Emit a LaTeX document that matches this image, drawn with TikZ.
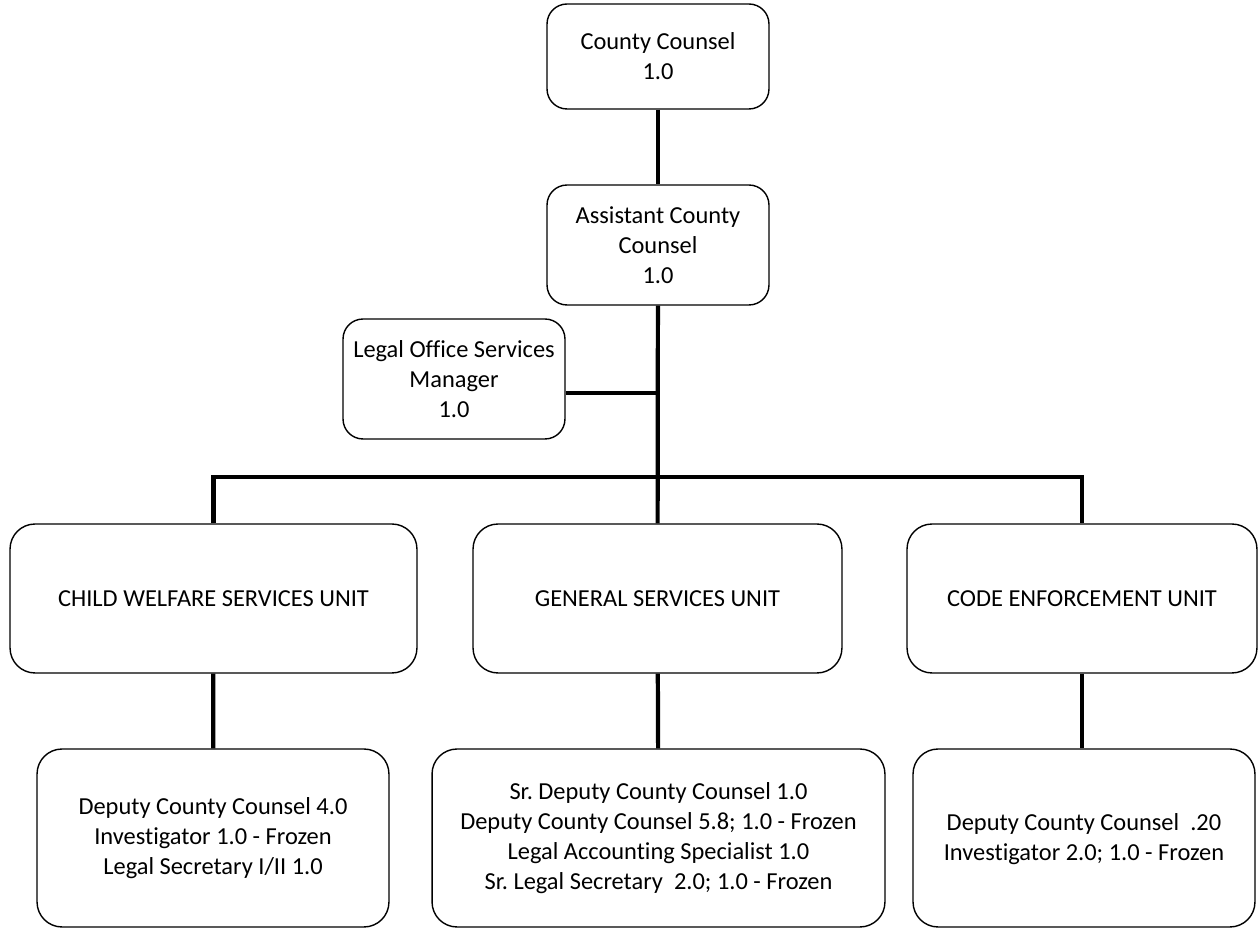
\documentclass[tikz,border=0pt]{standalone}
\usepackage{fontspec}
\setmainfont{Carlito}[Ligatures=NoCommon]
\usepackage{tikz}
\usetikzlibrary{calc}
\frenchspacing

\begin{document}
\begin{tikzpicture}[x=0.02cm, y=-0.02cm,
      post/.style={draw, line width=0.8pt, rounded corners=0.4cm, align=center,
        inner sep=0pt, font=\fontsize{13.9}{17}\selectfont},
      unit/.style={post, rounded corners=0.5cm, minimum height=2.98cm},
      staff/.style={post, rounded corners=0.5cm, minimum height=3.56cm},
      conn/.style={line width=2.4pt}]

      \useasboundingbox (0,0) rectangle (1259,928);

      \node[post, minimum width=4.44cm, minimum height=2.1cm] (cc) at (658,56.5) {County Counsel\\1.0};
      \node[post, minimum width=4.44cm, minimum height=2.4cm] (acc) at (658,245) {Assistant County\\Counsel\\1.0};
      \node[post, minimum width=4.44cm, minimum height=2.4cm] (los) at (454,379) {Legal Office Services\\Manager\\1.0};

      \node[unit, minimum width=8.14cm] (cws) at (213.5,598.5) {CHILD WELFARE SERVICES UNIT};
      \node[unit, minimum width=7.38cm] (gsu) at (657.5,598.5) {GENERAL SERVICES UNIT};
      \node[unit, minimum width=7.0cm] (ceu) at (1082,598.5) {CODE ENFORCEMENT UNIT};

      \node[staff, minimum width=7.04cm] (cwsstaff) at (213,838) {Deputy County Counsel 4.0\\Investigator 1.0 - Frozen\\Legal Secretary I/II 1.0};
      \node[staff, minimum width=9.06cm] (gsustaff) at (658.5,838) {Sr. Deputy County Counsel 1.0\\Deputy County Counsel 5.8; 1.0 - Frozen\\Legal Accounting Specialist 1.0\\Sr. Legal Secretary\ \ 2.0; 1.0 - Frozen};
      \node[staff, minimum width=6.84cm] (ceustaff) at (1084,838) {\\[-6pt]Deputy County Counsel\ \ .20\\Investigator 2.0; 1.0 - Frozen};

      \coordinate (mgr) at (658,393);
      \coordinate (bar) at (658,477);

      \draw[conn] (cc) -- (acc);
      \draw[conn] (acc) -- (gsu);
      \draw[conn] (los.east |- mgr) -- (mgr);
      \draw[conn] (cws.north) -- (cws.north |- bar) -- (ceu.north |- bar) -- (ceu.north);
      \draw[conn] (cws) -- (cwsstaff);
      \draw[conn] (gsu) -- (gsustaff);
      \draw[conn] (ceu.south) -- (ceu.south |- ceustaff.north);
    \end{tikzpicture}
\end{document}
